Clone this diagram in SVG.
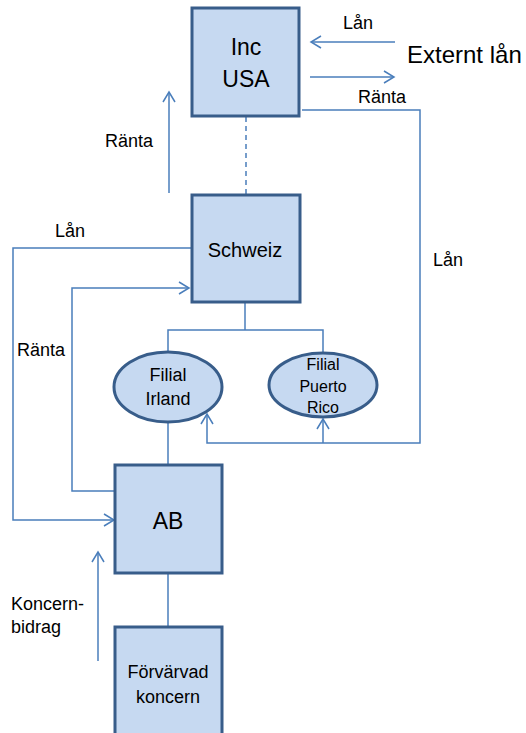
<svg xmlns="http://www.w3.org/2000/svg" width="526" height="733" viewBox="0 0 526 733">
<style>
.box{fill:#c6d9f1;stroke:#385d8a;stroke-width:3}
.ln{fill:none;stroke:#4a7ebb;stroke-width:1.5}
.ar{marker-end:url(#arr)}
text{font-family:"Liberation Sans",Arial,sans-serif;fill:#000}
.c{text-anchor:middle}
.lab{font-size:18px}
</style>
<defs>
<marker id="arr" markerUnits="userSpaceOnUse" markerWidth="14" markerHeight="16" refX="11" refY="7" orient="auto" viewBox="0 0 14 14">
<path d="M1,1 L11,7 L1,13" fill="none" stroke="#4a7ebb" stroke-width="1.5"/>
</marker>
</defs>
<rect width="526" height="733" fill="#fff"/>
<g id="connectors">
<line class="ln ar" x1="395" y1="42" x2="311" y2="42"/>
<line class="ln ar" x1="310" y1="77" x2="394" y2="77"/>
<polyline class="ln ar" points="302,110 420,110 420,443 207,443 207,414"/>
<line class="ln ar" x1="323" y1="443" x2="323" y2="419"/>
<line class="ln" x1="246" y1="117" x2="246" y2="194" stroke-dasharray="5,4"/>
<line class="ln ar" x1="169" y1="193" x2="169" y2="92"/>
<polyline class="ln ar" points="191,248 13,248 13,520 114,520"/>
<polyline class="ln ar" points="115,491 72,491 72,288 189,288"/>
<polyline class="ln" points="245,303 245,330"/>
<polyline class="ln" points="168,352 168,330 323,330 323,353"/>
<line class="ln" x1="168" y1="422" x2="168" y2="465"/>
<line class="ln" x1="168" y1="573" x2="168" y2="627"/>
<line class="ln ar" x1="98" y1="661" x2="98" y2="552"/>
</g>
<g id="labels">
<text class="lab" x="343" y="29">Lån</text>
<text x="407" y="63" font-size="24">Externt lån</text>
<text class="lab" x="358" y="103">Ränta</text>
<text class="lab" x="105" y="147">Ränta</text>
<text class="lab" x="55" y="237">Lån</text>
<text class="lab" x="433" y="266">Lån</text>
<text class="lab" x="17" y="356">Ränta</text>
<text class="lab" x="11" y="610">Koncern-</text>
<text class="lab" x="11" y="633">bidrag</text>
</g>
<g id="inc-usa">
<rect class="box" x="192" y="8" width="107" height="108"/>
<text class="c" x="246" y="55" font-size="23">Inc</text>
<text class="c" x="246" y="87" font-size="23">USA</text>
</g>
<g id="schweiz">
<rect class="box" x="192" y="195" width="108" height="107"/>
<text class="c" x="245" y="257" font-size="20">Schweiz</text>
</g>
<g id="filial-irland">
<ellipse class="box" cx="168" cy="387" rx="54" ry="35"/>
<text class="c" x="168" y="381" font-size="18">Filial</text>
<text class="c" x="168" y="405" font-size="18">Irland</text>
</g>
<g id="filial-puerto-rico">
<ellipse class="box" cx="323" cy="385" rx="54" ry="32"/>
<text class="c" x="323" y="370" font-size="16">Filial</text>
<text class="c" x="323" y="392" font-size="16">Puerto</text>
<text class="c" x="323" y="413" font-size="16">Rico</text>
</g>
<g id="ab">
<rect class="box" x="115" y="465" width="107" height="108"/>
<text class="c" x="168" y="529" font-size="23">AB</text>
</g>
<g id="forvarvad-koncern">
<rect class="box" x="115" y="627" width="107" height="120"/>
<text class="c" x="168" y="678" font-size="18">Förvärvad</text>
<text class="c" x="168" y="703" font-size="18">koncern</text>
</g>
</svg>
